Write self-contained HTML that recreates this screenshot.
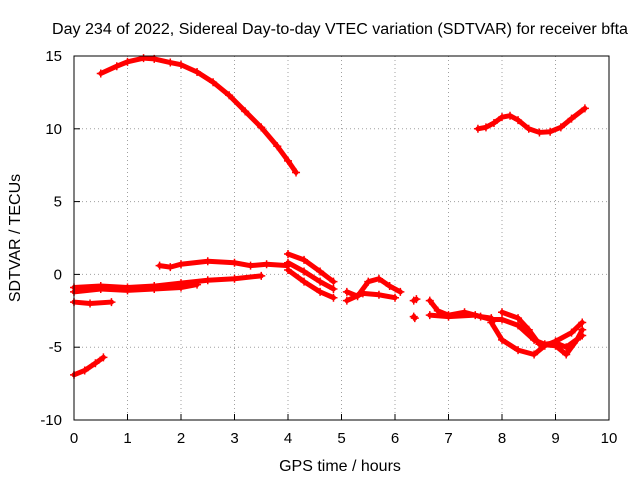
<!DOCTYPE html>
<html><head><meta charset="utf-8"><style>
body{margin:0;background:#fff;}
svg{display:block;font-family:"Liberation Sans",sans-serif;}
</style></head><body>
<svg id="chart" width="640" height="480">
<text x="52" y="34" font-size="15.5" textLength="576" lengthAdjust="spacingAndGlyphs">Day 234 of 2022, Sidereal Day-to-day VTEC variation (SDTVAR) for receiver bfta</text>
<text x="340" y="471" font-size="16" text-anchor="middle">GPS time / hours</text>
<text transform="translate(20,238) rotate(-90)" font-size="16" text-anchor="middle">SDTVAR / TECUs</text>
<g id="grid"></g><g id="marks"></g>
<rect x="74" y="56" width="535" height="364" fill="none" stroke="#000"/>
</svg>
<script>
const xTicks=[0,1,2,3,4,5,6,7,8,9,10];
const yTicks=[-10,-5,0,5,10,15];
const series=[
[[0.5,13.8],[0.8,14.3],[1.0,14.6],[1.3,14.85],[1.5,14.8],[1.8,14.55],[2.0,14.4],[2.3,13.9],[2.6,13.2],[2.9,12.3],[3.2,11.2],[3.5,10.1],[3.8,8.8],[4.0,7.8],[4.15,7.0]],
[[7.55,10.0],[7.7,10.1],[7.85,10.4],[8.0,10.8],[8.15,10.9],[8.3,10.6],[8.5,10.0],[8.7,9.75],[8.9,9.8],[9.1,10.1],[9.3,10.7],[9.55,11.4]],
[[0,-6.9],[0.2,-6.6],[0.4,-6.1],[0.55,-5.7]],
[[0,-1.9],[0.3,-2.0],[0.7,-1.9]],
[[0,-0.9],[0.5,-0.8],[1.0,-0.9],[1.5,-0.8],[2.0,-0.6],[2.5,-0.4],[3.0,-0.3],[3.5,-0.1]],
[[0,-1.2],[0.5,-1.0],[1.0,-1.1],[1.5,-1.0],[2.0,-0.9],[2.3,-0.7]],
[[1.6,0.6],[1.8,0.5],[2.0,0.7],[2.5,0.9],[3.0,0.8],[3.3,0.6],[3.6,0.7],[4.0,0.6]],
[[4.0,1.4],[4.3,1.0],[4.6,0.2],[4.85,-0.5]],
[[4.0,0.8],[4.3,0.2],[4.6,-0.5],[4.85,-1.0]],
[[4.0,0.3],[4.3,-0.5],[4.6,-1.2],[4.85,-1.6]],
[[5.1,-1.2],[5.3,-1.5],[5.5,-0.5],[5.7,-0.3],[5.9,-0.8],[6.1,-1.2]],
[[5.1,-1.8],[5.4,-1.3],[5.7,-1.4],[6.0,-1.6]],
[[6.35,-1.8],[6.4,-1.7]],
[[6.35,-2.9],[6.37,-3.0]],
[[6.65,-1.8],[6.8,-2.5],[7.0,-2.8],[7.3,-2.6],[7.6,-2.9],[7.8,-3.0]],
[[6.65,-2.8],[7.0,-2.9],[7.5,-2.8],[7.8,-3.1]],
[[7.8,-3.1],[8.0,-3.1],[8.3,-3.5],[8.6,-4.5],[8.8,-4.8],[9.0,-4.7],[9.2,-5.0],[9.5,-4.2]],
[[7.8,-3.3],[8.0,-4.5],[8.3,-5.2],[8.6,-5.5],[8.8,-4.9],[9.0,-4.6],[9.3,-4.0],[9.5,-3.3]],
[[8.0,-2.6],[8.3,-3.0],[8.5,-3.8],[8.7,-4.8],[9.0,-4.9],[9.2,-5.5],[9.4,-4.5],[9.5,-3.8]]
];
const NS="http://www.w3.org/2000/svg";
const X=t=>74+t*53.5, Y=v=>56+(15-v)*14.56;
const grid=document.getElementById('grid'), marks=document.getElementById('marks');
function mk(tag,attrs,parent){const e=document.createElementNS(NS,tag);for(const k in attrs)e.setAttribute(k,attrs[k]);parent.appendChild(e);return e;}
xTicks.forEach(t=>{
 const l=mk('line',{x1:X(t),x2:X(t),y1:56,y2:420,stroke:'#a0a0a0','stroke-dasharray':'1,3'},grid);
 
 
 mk('line',{x1:X(t),x2:X(t),y1:420,y2:414,stroke:'#000'},grid);
 const tx=mk('text',{x:X(t),y:443,'font-size':15,'text-anchor':'middle'},grid);tx.textContent=t;
 
 
});
yTicks.forEach(v=>{
 const l=mk('line',{x1:74,x2:609,y1:Y(v),y2:Y(v),stroke:'#a0a0a0','stroke-dasharray':'1,3'},grid);
 
 
 mk('line',{x1:74,x2:80,y1:Y(v),y2:Y(v),stroke:'#000'},grid);
 const tx=mk('text',{x:62,y:Y(v)+5,'font-size':15,'text-anchor':'end'},grid);tx.textContent=v;
 
 
});
series.forEach((s,i)=>{
 const p=mk('polyline',{points:s.map(d=>X(d[0])+','+Y(d[1])).join(' '),fill:'none',stroke:'#f00','stroke-width':5,'stroke-linejoin':'round','stroke-linecap':'round'},marks);
 
 
 s.forEach(d=>{
  const x=X(d[0]),y=Y(d[1]);
  const m=mk('path',{d:`M${x-4},${y}h8M${x},${y-4}v8`,stroke:'#f00','stroke-width':1.5},marks);
  
  
 });
});
</script>
</body></html>
